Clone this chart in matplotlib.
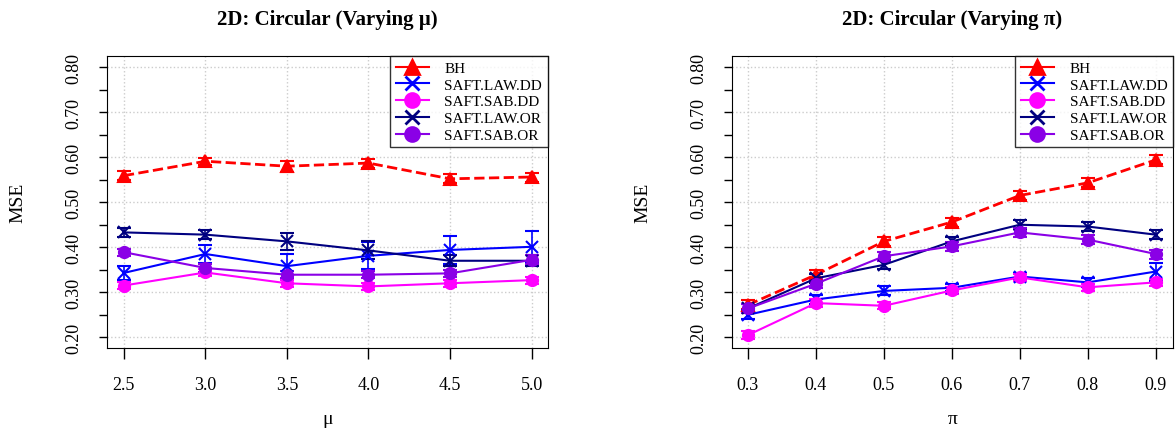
import numpy as np
import matplotlib
matplotlib.use("Agg")
import matplotlib.pyplot as plt
from matplotlib.lines import Line2D

plt.rcParams['font.family'] = ['Liberation Serif', 'DejaVu Serif']

#%% Data
mu_vals = [2.5, 3.0, 3.5, 4.0, 4.5, 5.0]
pi_vals = [0.3, 0.4, 0.5, 0.6, 0.7, 0.8, 0.9]
methods = ["BH", "SAFT.LAW.DD", "SAFT.SAB.DD", "SAFT.LAW.OR", "SAFT.SAB.OR"]

# varying mu
mu_bh = [0.559, 0.591, 0.580, 0.587, 0.552, 0.556]
mu_law_dd = [0.343, 0.385, 0.358, 0.381, 0.394, 0.401]
mu_sab_dd = [0.315, 0.344, 0.320, 0.313, 0.320, 0.327]
mu_law_or = [0.433, 0.428, 0.413, 0.393, 0.370, 0.370]
mu_sab_or = [0.389, 0.354, 0.339, 0.339, 0.342, 0.372]
mu_err = {
    "BH": [0.010, 0.008, 0.012, 0.010, 0.010, 0.010],
    "SAFT.LAW.DD": [0.015, 0.020, 0.028, 0.030, 0.032, 0.035],
    "SAFT.SAB.DD": [0.008, 0.008, 0.008, 0.008, 0.008, 0.008],
    "SAFT.LAW.OR": [0.010, 0.010, 0.018, 0.020, 0.012, 0.012],
    "SAFT.SAB.OR": [0.008, 0.008, 0.008, 0.008, 0.008, 0.010],
}

# varying pi
pi_bh = [0.272, 0.339, 0.413, 0.456, 0.515, 0.543, 0.594]
pi_law_dd = [0.250, 0.284, 0.303, 0.310, 0.335, 0.322, 0.346]
pi_sab_dd = [0.205, 0.276, 0.270, 0.304, 0.333, 0.311, 0.322]
pi_law_or = [0.264, 0.331, 0.361, 0.413, 0.450, 0.446, 0.428]
pi_sab_or = [0.264, 0.319, 0.380, 0.402, 0.433, 0.417, 0.385]
pi_err = {
    "BH": [0.010, 0.010, 0.010, 0.010, 0.010, 0.010, 0.010],
    "SAFT.LAW.DD": [0.010, 0.010, 0.010, 0.008, 0.008, 0.010, 0.020],
    "SAFT.SAB.DD": [0.008, 0.008, 0.008, 0.008, 0.008, 0.008, 0.008],
    "SAFT.LAW.OR": [0.010, 0.010, 0.010, 0.010, 0.010, 0.010, 0.010],
    "SAFT.SAB.OR": [0.010, 0.010, 0.010, 0.010, 0.010, 0.010, 0.010],
}

styles = {
    "BH": dict(color="#FF0000", marker="^", ls="--", lw=2.0, ms=9),
    "SAFT.LAW.DD": dict(color="#0000FF", marker="x", ls="-", lw=1.5, ms=9),
    "SAFT.SAB.DD": dict(color="#FF00FF", marker="o", ls="-", lw=1.5, ms=8),
    "SAFT.LAW.OR": dict(color="#000080", marker="x", ls="-", lw=1.5, ms=9),
    "SAFT.SAB.OR": dict(color="#8A00E6", marker="o", ls="-", lw=1.5, ms=8),
}


def draw_panel(ax, x, series, errs, title, xlabel, xlim):
    for name, y in zip(methods, series):
        st = styles[name]
        ax.errorbar(x, y, yerr=errs[name], color=st["color"], marker=st["marker"],
                    ls=st["ls"], lw=st["lw"], ms=st["ms"], mew=1.5,
                    elinewidth=1.2, capsize=5, capthick=1.2)
    ax.set_xlim(*xlim)
    ax.set_ylim(0.176, 0.825)
    ax.set_xticks(x)
    ax.set_xticklabels([f"{v:.1f}" for v in x], fontsize=13)
    yt = np.arange(0.20, 0.801, 0.05)
    ax.set_yticks(yt)
    ax.set_yticklabels([f"{v:.2f}" if i % 2 == 0 else "" for i, v in enumerate(yt)],
                       fontsize=13, rotation=90, va="center")
    for gy in np.arange(0.2, 0.81, 0.1):
        ax.axhline(gy, color="#cccccc", ls=":", lw=1, zorder=0)
    for gx in x:
        ax.axvline(gx, color="#cccccc", ls=":", lw=1, zorder=0)
    ax.tick_params(axis="y", direction="out", length=6, width=1, pad=12)
    ax.tick_params(axis="x", direction="out", length=8, width=1, pad=12)
    ax.set_title(title, fontsize=15, fontweight="bold", pad=23)
    ax.set_ylabel("MSE", fontsize=14, labelpad=28)
    ax.set_xlabel(xlabel, fontsize=14, labelpad=12)
    handles = [Line2D([], [], color=styles[m]["color"], marker=styles[m]["marker"],
                      ls="-", lw=1.5, ms=10, mew=2) for m in methods]
    leg = ax.legend(handles, methods, loc="upper right", fontsize=11, frameon=True,
                    fancybox=False, borderaxespad=0, handlelength=2.2,
                    handletextpad=1.0, labelspacing=0.2, borderpad=0.35,
                    edgecolor="black")
    leg.get_frame().set_linewidth(1)


#%% Plot
fig = plt.figure(figsize=(11.75, 4.31), dpi=100)
ax1 = fig.add_axes([0.091, 0.190, 0.375, 0.678])
ax2 = fig.add_axes([0.623, 0.190, 0.375, 0.678])

draw_panel(ax1, mu_vals, [mu_bh, mu_law_dd, mu_sab_dd, mu_law_or, mu_sab_or],
           mu_err, "2D: Circular (Varying μ)", "μ", (2.396, 5.098))
draw_panel(ax2, pi_vals, [pi_bh, pi_law_dd, pi_sab_dd, pi_law_or, pi_sab_or],
           pi_err, "2D: Circular (Varying π)", "π", (0.2765, 0.925))

fig.savefig("out.png", dpi=100)
